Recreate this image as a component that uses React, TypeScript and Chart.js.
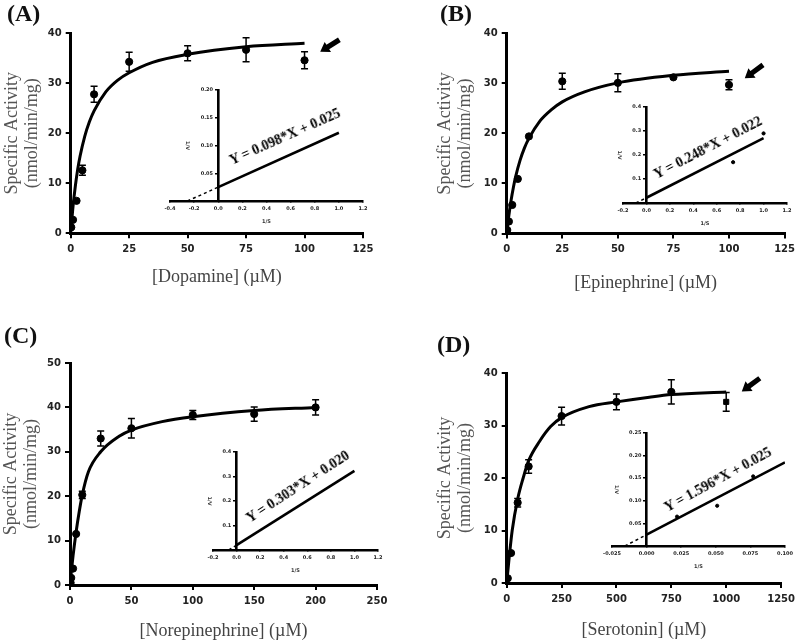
import React, { useEffect, useRef } from 'react';
import { Chart, registerables } from 'chart.js';
Chart.register(...registerables);
Chart.defaults.font.family = 'DejaVu Sans';

// ---------- Panel A: Dopamine ----------
const dopamineConc = [0.25, 1, 2.5, 5, 10, 25, 50, 75, 100];
const dopamineActivity = [1.2, 2.7, 6.5, 12.6, 27.8, 34.3, 36.0, 36.7, 34.6];
const dopamineSem = [0.4, 0.5, 0.5, 1.0, 1.6, 1.9, 1.5, 2.4, 1.7];
const dopamineFitConc = [0, 1, 2, 3, 4, 6, 8, 10, 15, 20, 25, 35, 50, 75, 100];
const dopamineFitActivity = [0, 5.4, 9.5, 12.8, 15.4, 19.4, 22.3, 24.5, 28.3, 30.6, 32.1, 34.2, 35.8, 37.3, 38.0];
const dopamineLbS = [0, 1.0];
const dopamineLbV = [0.025, 0.123];
const dopamineLbDashS = [-0.255, 0];
const dopamineLbDashV = [0, 0.025];
const dopamineLbPointS: number[] = [];
const dopamineLbPointV: number[] = [];

// ---------- Panel B: Epinephrine ----------
const epinephrineConc = [0.25, 1, 2.5, 5, 10, 25, 50, 75, 100];
const epinephrineActivity = [0.7, 2.4, 5.7, 10.9, 19.4, 30.4, 30.1, 31.2, 29.7];
const epinephrineSem = [0.3, 0.4, 0.5, 0.6, 0.7, 1.6, 1.8, 0.5, 1.0];
const epinephrineFitConc = [0, 1, 2, 3, 4, 6, 8, 10, 15, 20, 25, 35, 50, 75, 100];
const epinephrineFitActivity = [0, 3.7, 6.7, 9.2, 11.3, 14.6, 17.1, 19.0, 22.5, 24.7, 26.3, 28.3, 30.1, 31.6, 32.4];
const epinephrineLbS = [0, 1.0];
const epinephrineLbV = [0.022, 0.270];
const epinephrineLbDashS = [-0.09, 0];
const epinephrineLbDashV = [0, 0.022];
const epinephrineLbPointS = [0.74, 1.0];
const epinephrineLbPointV = [0.17, 0.29];

// ---------- Panel C: Norepinephrine ----------
const norepinephrineConc = [0.5, 1, 2.5, 5, 10, 25, 50, 100, 150, 200];
const norepinephrineActivity = [0.5, 1.6, 3.7, 11.5, 20.3, 33.0, 35.3, 38.3, 38.5, 40.0];
const norepinephrineSem = [0.3, 0.4, 0.5, 0.6, 0.8, 1.7, 2.2, 1.0, 1.6, 1.7];
const norepinephrineFitConc = [0, 1, 2.5, 5, 7.5, 10, 15, 25, 40, 50, 75, 100, 150, 200];
const norepinephrineFitActivity = [0, 2.8, 6.6, 12.0, 16.5, 20.3, 25.5, 30.0, 33.5, 34.9, 36.8, 37.9, 39.3, 40.0];
const norepinephrineLbS = [0, 1.0];
const norepinephrineLbV = [0.020, 0.323];
const norepinephrineLbDashS = [-0.066, 0];
const norepinephrineLbDashV = [0, 0.020];
const norepinephrineLbPointS: number[] = [];
const norepinephrineLbPointV: number[] = [];

// ---------- Panel D: Serotonin ----------
const serotoninConc = [5, 20, 50, 100, 250, 500, 750, 1000];
const serotoninActivity = [0.9, 5.7, 15.3, 22.2, 31.8, 34.5, 36.4, 34.5];
const serotoninSem = [0.4, 0.5, 0.8, 1.3, 1.7, 1.5, 2.3, 1.8];
const serotoninFitConc = [0, 10, 25, 50, 75, 100, 150, 200, 250, 375, 500, 650, 750, 1000];
const serotoninFitActivity = [0, 4.3, 10.0, 16.0, 20.0, 23.3, 27.0, 29.8, 31.5, 33.6, 34.5, 35.4, 35.9, 36.4];
const serotoninLbS = [0, 0.1];
const serotoninLbV = [0.025, 0.185];
const serotoninLbDashS = [-0.0157, 0];
const serotoninLbDashV = [0, 0.025];
const serotoninLbPointS = [0.022, 0.051, 0.077];
const serotoninLbPointV = [0.065, 0.089, 0.154];

const yTitleLines = ['Specific Activity', '(nmol/min/mg)'];

const toPts = (xs: number[], ys: number[]) => xs.map((x, i) => ({ x, y: ys[i] }));

const errorBarPlugin = {
  id: 'errorBars',
  afterDatasetsDraw(chart: any) {
    const ctx = chart.ctx;
    const xs = chart.scales.x;
    const ys = chart.scales.y;
    chart.data.datasets.forEach((ds: any) => {
      const errs = ds.errors;
      if (!errs) return;
      ctx.save();
      ctx.strokeStyle = '#000';
      ctx.lineWidth = 1.5;
      ds.data.forEach((pt: any, j: number) => {
        const e = errs[j];
        if (!e || e < 0.8) return;
        const px = xs.getPixelForValue(pt.x);
        const top = ys.getPixelForValue(pt.y + e);
        const bot = ys.getPixelForValue(pt.y - e);
        ctx.beginPath();
        ctx.moveTo(px, top);
        ctx.lineTo(px, bot);
        ctx.moveTo(px - 3.5, top);
        ctx.lineTo(px + 3.5, top);
        ctx.moveTo(px - 3.5, bot);
        ctx.lineTo(px + 3.5, bot);
        ctx.stroke();
      });
      ctx.restore();
    });
  },
};

const arrowPlugin = {
  id: 'arrowMark',
  afterDraw(chart: any, _args: any, opts: any) {
    if (!opts || opts.fromX === undefined) return;
    const ctx = chart.ctx;
    const xs = chart.scales.x;
    const ys = chart.scales.y;
    const x1 = xs.getPixelForValue(opts.fromX);
    const y1 = ys.getPixelForValue(opts.fromY);
    const x2 = xs.getPixelForValue(opts.toX);
    const y2 = ys.getPixelForValue(opts.toY);
    const ang = Math.atan2(y2 - y1, x2 - x1);
    const len = Math.hypot(x2 - x1, y2 - y1);
    ctx.save();
    ctx.translate(x2, y2);
    ctx.rotate(ang);
    ctx.fillStyle = '#000';
    ctx.beginPath();
    ctx.moveTo(0, 0);
    ctx.lineTo(-9, -6);
    ctx.lineTo(-9, -2.6);
    ctx.lineTo(-len, -2.6);
    ctx.lineTo(-len, 2.6);
    ctx.lineTo(-9, 2.6);
    ctx.lineTo(-9, 6);
    ctx.closePath();
    ctx.fill();
    ctx.restore();
  },
};

type Area = { l: number; r: number; t: number; b: number };

type MainPanel = {
  left: number; top: number; w: number; h: number;
  area: Area; yTitleX: number; xTitleY: number;
  xMax: number; xStep: number; yMax: number; xTitle: string;
  conc: number[]; act: number[]; sem: number[];
  fitConc: number[]; fitAct: number[];
  lastSquare?: boolean;
  arrow?: { fromX: number; fromY: number; toX: number; toY: number };
};

const TITLE_SIZE = 18;
const TITLE_LH = 1.15;

function mainConfig(p: MainPanel): any {
  const lh = TITLE_SIZE * TITLE_LH;
  const padLeft = p.yTitleX - lh / 2;
  const yWidth = p.area.l - padLeft;
  const padRight = p.w - p.area.r;
  const padTop = p.area.t;
  const scaleBottom = p.xTitleY + lh / 2;
  const padBottom = p.h - scaleBottom;
  const xHeight = scaleBottom - p.area.b;
  const tickFont = { family: 'DejaVu Sans', size: 10, weight: 'bold' as const };
  const titleFont = { family: 'Liberation Serif', size: TITLE_SIZE, lineHeight: TITLE_LH };
  const styles = p.conc.map((_, i) => (p.lastSquare && i === p.conc.length - 1 ? 'rect' : 'circle'));
  return {
    type: 'scatter',
    data: {
      datasets: [
        {
          type: 'line',
          data: toPts(p.fitConc, p.fitAct),
          borderColor: '#000',
          borderWidth: 3,
          pointRadius: 0,
          fill: false,
          cubicInterpolationMode: 'monotone',
          showLine: true,
          order: 2,
        },
        {
          type: 'scatter',
          data: toPts(p.conc, p.act),
          backgroundColor: '#000',
          borderColor: '#000',
          pointRadius: 3.6,
          pointStyle: styles,
          errors: p.sem,
          order: 1,
        },
      ],
    },
    options: {
      responsive: false,
      animation: false,
      events: [],
      layout: { padding: { left: padLeft, right: padRight, top: padTop, bottom: padBottom } },
      plugins: {
        legend: { display: false },
        tooltip: { enabled: false },
        arrowMark: p.arrow || {},
      },
      scales: {
        x: {
          type: 'linear',
          min: 0,
          max: p.xMax,
          ticks: {
            stepSize: p.xStep, font: tickFont, color: '#222', padding: 5, maxRotation: 0, autoSkip: false,
            callback: (v: any) => String(Math.round(Number(v))),
          },
          grid: { display: true, drawOnChartArea: false, drawTicks: true, tickLength: 5, lineWidth: 2, color: '#000' },
          border: { display: true, width: 3, color: '#000' },
          title: { display: true, text: p.xTitle, font: titleFont, color: '#444', padding: 0 },
          afterFit: (s: any) => { s.height = xHeight; },
        },
        y: {
          type: 'linear',
          min: 0,
          max: p.yMax,
          ticks: { stepSize: 10, font: tickFont, color: '#222', padding: 4 },
          grid: { display: true, drawOnChartArea: false, drawTicks: true, tickLength: 5, lineWidth: 2, color: '#000' },
          border: { display: true, width: 3, color: '#000' },
          title: { display: true, text: yTitleLines, font: titleFont, color: '#555', padding: 0 },
          afterFit: (s: any) => { s.width = yWidth; },
        },
      },
    },
    plugins: [errorBarPlugin, arrowPlugin],
  };
}

type InsetPanel = {
  area: Area;
  xMin: number; xMax: number; xStep: number; xDec: number;
  yMax: number; yStep: number; yDec: number;
  lineS: number[]; lineV: number[];
  dashS: number[]; dashV: number[];
  ptS: number[]; ptV: number[];
};

function insetBox(p: InsetPanel) {
  const left = p.area.l - 30;
  const top = p.area.t - 10;
  const right = Math.min(p.area.r + 14, 800);
  const width = right - left;
  const height = p.area.b - p.area.t + 10 + 30;
  return { left, top, width, height };
}

const fmt = (v: any, dec: number) => {
  const n = Number(v);
  return (Math.abs(n) < 1e-9 ? 0 : n).toFixed(dec);
};

function insetConfig(p: InsetPanel): any {
  const box = insetBox(p);
  const a = { l: p.area.l - box.left, r: p.area.r - box.left, t: p.area.t - box.top, b: p.area.b - box.top };
  const xHeight = 24;
  const padBottom = box.height - (a.b + xHeight);
  const tickFont = { family: 'DejaVu Sans', size: 5, weight: 'bold' as const };
  const titleFont = { family: 'DejaVu Sans', size: 5, weight: 'bold' as const, lineHeight: 1.2 };
  return {
    type: 'scatter',
    data: {
      datasets: [
        {
          type: 'line',
          data: toPts(p.lineS, p.lineV),
          borderColor: '#000',
          borderWidth: 2.6,
          pointRadius: 0,
          fill: false,
          showLine: true,
        },
        {
          type: 'line',
          data: toPts(p.dashS, p.dashV),
          borderColor: '#000',
          borderWidth: 1.5,
          borderDash: [3, 3],
          pointRadius: 0,
          fill: false,
          showLine: true,
        },
        {
          type: 'scatter',
          data: toPts(p.ptS, p.ptV),
          backgroundColor: '#000',
          borderColor: '#000',
          pointRadius: 1.6,
        },
      ],
    },
    options: {
      responsive: false,
      animation: false,
      events: [],
      layout: { padding: { left: a.l, right: box.width - a.r, top: a.t, bottom: padBottom } },
      plugins: { legend: { display: false }, tooltip: { enabled: false } },
      scales: {
        x: {
          type: 'linear',
          position: 'bottom',
          min: p.xMin,
          max: p.xMax,
          ticks: {
            stepSize: p.xStep,
            font: tickFont,
            color: '#222',
            padding: 3,
            maxRotation: 0,
            autoSkip: false,
            callback: (v: any) => fmt(v, p.xDec),
          },
          grid: { display: true, drawOnChartArea: false, drawTicks: true, tickLength: 2, lineWidth: 1.5, color: '#000' },
          border: { display: true, width: 2.6, color: '#000' },
          title: { display: true, text: '1/S', font: titleFont, color: '#333', padding: 0 },
          afterFit: (s: any) => { s.height = xHeight; },
        },
        y: {
          type: 'linear',
          position: { x: 0 },
          min: 0,
          max: p.yMax,
          ticks: {
            stepSize: p.yStep,
            font: tickFont,
            color: '#222',
            padding: 3,
            autoSkip: false,
            callback: (v: any) => (Math.abs(Number(v)) < 1e-9 ? '' : fmt(v, p.yDec) + '   '),
          },
          grid: { display: true, drawOnChartArea: false, drawTicks: true, tickLength: 2, lineWidth: 1.5, color: '#000' },
          border: { display: true, width: 2.6, color: '#000' },
          title: { display: true, text: '1/V', font: titleFont, color: '#333', padding: 2 },
        },
      },
    },
  };
}

const panelA: MainPanel = {
  left: 0, top: 0, w: 400, h: 320,
  area: { l: 70.7, r: 363, t: 33.3, b: 233.3 }, yTitleX: 12, xTitleY: 277,
  xMax: 125, xStep: 25, yMax: 40, xTitle: '[Dopamine] (\u00B5M)',
  conc: dopamineConc, act: dopamineActivity, sem: dopamineSem,
  fitConc: dopamineFitConc, fitAct: dopamineFitActivity,
  arrow: { fromX: 114.9, fromY: 38.7, toX: 106.7, toY: 36.3 },
};
const panelB: MainPanel = {
  left: 400, top: 0, w: 400, h: 320,
  area: { l: 106.7, r: 386.7, t: 33.3, b: 233.5 }, yTitleX: 45, xTitleY: 283,
  xMax: 125, xStep: 25, yMax: 40, xTitle: '[Epinephrine] (\u00B5M)',
  conc: epinephrineConc, act: epinephrineActivity, sem: epinephrineSem,
  fitConc: epinephrineFitConc, fitAct: epinephrineFitActivity,
  arrow: { fromX: 115.3, fromY: 33.7, toX: 107.1, toY: 31.0 },
};
const panelC: MainPanel = {
  left: 0, top: 320, w: 400, h: 322,
  area: { l: 70, r: 377, t: 43, b: 265 }, yTitleX: 11, xTitleY: 311,
  xMax: 250, xStep: 50, yMax: 50, xTitle: '[Norepinephrine] (\u00B5M)',
  conc: norepinephrineConc, act: norepinephrineActivity, sem: norepinephrineSem,
  fitConc: norepinephrineFitConc, fitAct: norepinephrineFitActivity,
};
const panelD: MainPanel = {
  left: 400, top: 320, w: 400, h: 322,
  area: { l: 106.7, r: 386.7, t: 53, b: 263 }, yTitleX: 45, xTitleY: 310,
  xMax: 1250, xStep: 250, yMax: 40, xTitle: '[Serotonin] (\u00B5M)',
  conc: serotoninConc, act: serotoninActivity, sem: serotoninSem,
  fitConc: serotoninFitConc, fitAct: serotoninFitActivity, lastSquare: true,
  arrow: { fromX: 1153, fromY: 39.0, toX: 1071, toY: 36.5 },
};

const insetA: InsetPanel = {
  area: { l: 170, r: 363, t: 90, b: 201 },
  xMin: -0.4, xMax: 1.2, xStep: 0.2, xDec: 1, yMax: 0.2, yStep: 0.05, yDec: 2,
  lineS: dopamineLbS, lineV: dopamineLbV, dashS: dopamineLbDashS, dashV: dopamineLbDashV,
  ptS: dopamineLbPointS, ptV: dopamineLbPointV,
};
const insetB: InsetPanel = {
  area: { l: 623, r: 787, t: 107, b: 203 },
  xMin: -0.2, xMax: 1.2, xStep: 0.2, xDec: 1, yMax: 0.4, yStep: 0.1, yDec: 1,
  lineS: epinephrineLbS, lineV: epinephrineLbV, dashS: epinephrineLbDashS, dashV: epinephrineLbDashV,
  ptS: epinephrineLbPointS, ptV: epinephrineLbPointV,
};
const insetC: InsetPanel = {
  area: { l: 213, r: 378, t: 452, b: 550 },
  xMin: -0.2, xMax: 1.2, xStep: 0.2, xDec: 1, yMax: 0.4, yStep: 0.1, yDec: 1,
  lineS: norepinephrineLbS, lineV: norepinephrineLbV, dashS: norepinephrineLbDashS, dashV: norepinephrineLbDashV,
  ptS: norepinephrineLbPointS, ptV: norepinephrineLbPointV,
};
const insetD: InsetPanel = {
  area: { l: 611.7, r: 785, t: 433, b: 546 },
  xMin: -0.025, xMax: 0.1, xStep: 0.025, xDec: 3, yMax: 0.25, yStep: 0.05, yDec: 2,
  lineS: serotoninLbS, lineV: serotoninLbV, dashS: serotoninLbDashS, dashV: serotoninLbDashV,
  ptS: serotoninLbPointS, ptV: serotoninLbPointV,
};

function ChartCanvas(props: { left: number; top: number; width: number; height: number; make: () => any }) {
  const ref = useRef<HTMLCanvasElement>(null);
  useEffect(() => {
    const chart = new Chart(ref.current as HTMLCanvasElement, props.make());
    return () => chart.destroy();
  }, []);
  return (
    <canvas
      ref={ref}
      width={props.width}
      height={props.height}
      style={{ position: 'absolute', left: props.left, top: props.top, width: props.width, height: props.height }}
    />
  );
}

const labels = [
  { text: '(A)', left: 7, top: 13 },
  { text: '(B)', left: 440, top: 13 },
  { text: '(C)', left: 4, top: 335 },
  { text: '(D)', left: 437, top: 344 },
];

const equations = [
  { text: 'Y = 0.098*X + 0.025', cx: 285, cy: 137, angle: -24 },
  { text: 'Y = 0.248*X + 0.022', cx: 708, cy: 148, angle: -27.4 },
  { text: 'Y = 0.303*X + 0.020', cx: 298, cy: 487, angle: -33 },
  { text: 'Y = 1.596*X + 0.025', cx: 718, cy: 480, angle: -28.6 },
];

export default function App() {
  const mains = [panelA, panelB, panelC, panelD];
  const insets = [insetA, insetB, insetC, insetD];
  return (
    <div style={{ position: 'absolute', left: 0, top: 0, width: 800, height: 642, background: '#fff', overflow: 'hidden' }}>
      {mains.map((p, i) => (
        <ChartCanvas key={'m' + i} left={p.left} top={p.top} width={p.w} height={p.h} make={() => mainConfig(p)} />
      ))}
      {insets.map((p, i) => {
        const b = insetBox(p);
        return <ChartCanvas key={'i' + i} left={b.left} top={b.top} width={b.width} height={b.height} make={() => insetConfig(p)} />;
      })}
      {labels.map((l, i) => (
        <div
          key={'l' + i}
          style={{
            position: 'absolute', left: l.left, top: l.top, transform: 'translateY(-50%)',
            font: 'bold 24px "Liberation Serif"', color: '#111', lineHeight: 1, whiteSpace: 'nowrap',
          }}
        >
          {l.text}
        </div>
      ))}
      {equations.map((e, i) => (
        <div
          key={'e' + i}
          style={{
            position: 'absolute', left: e.cx, top: e.cy,
            transform: `translate(-50%, -50%) rotate(${e.angle}deg)`,
            font: 'bold 14px "Liberation Serif"', color: '#000', lineHeight: 1, whiteSpace: 'nowrap',
          }}
        >
          {e.text}
        </div>
      ))}
    </div>
  );
}
